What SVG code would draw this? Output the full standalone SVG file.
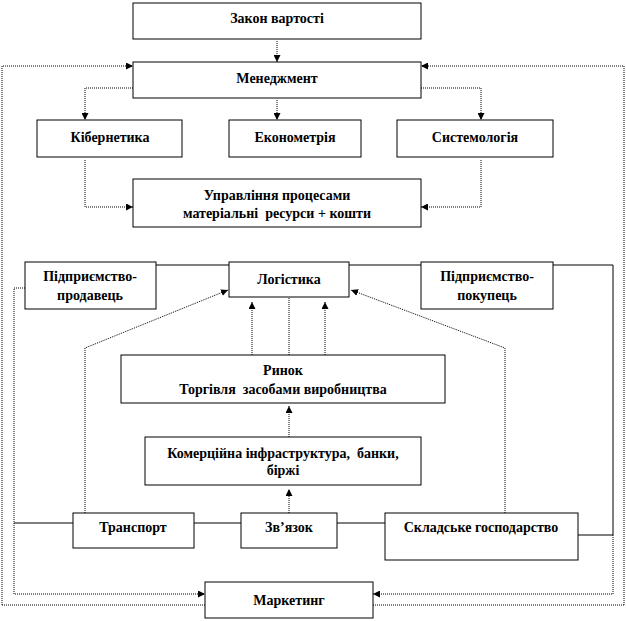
<svg xmlns="http://www.w3.org/2000/svg" width="626" height="621" viewBox="0 0 626 621">
<style>
.box{fill:#fff;stroke:#000;stroke-width:1}
.t{font-family:"Liberation Serif","Times New Roman",serif;font-weight:bold;font-size:14px;text-anchor:middle;fill:#000;white-space:pre}
.dot{fill:none;stroke:#000;stroke-width:1;stroke-dasharray:1 1}
.sol{fill:none;stroke:#000;stroke-width:1}
</style>
<defs>
<marker id="ah" viewBox="0 0 10 10" refX="10" refY="5" markerWidth="7" markerHeight="7" orient="auto" markerUnits="userSpaceOnUse">
<path d="M0,0 L10,5 L0,10 z" fill="#000"/>
</marker>
</defs>
<rect width="626" height="621" fill="#fff"/>
<g id="connectors">
<path class="dot" d="M277,41 V62" marker-end="url(#ah)"/>
<path class="dot" d="M2,605 V66 H133" marker-end="url(#ah)"/>
<path class="dot" d="M624,605 V66 H421" marker-end="url(#ah)"/>
<path class="dot" d="M2,605 H205"/>
<path class="dot" d="M373,605 H624"/>
<path class="dot" d="M133,88 H85 V120" marker-end="url(#ah)"/>
<path class="dot" d="M277,100 V120" marker-end="url(#ah)"/>
<path class="dot" d="M421,88 H481 V120" marker-end="url(#ah)"/>
<path class="dot" d="M85,160 V207 H133" marker-end="url(#ah)"/>
<path class="dot" d="M481,160 V207 H421" marker-end="url(#ah)"/>
<path class="sol" d="M156,265 H229"/>
<path class="sol" d="M349,265 H421"/>
<path class="sol" d="M553,265 H613 V535 H578"/>
<path class="dot" d="M25,288 H14 V594 H205" marker-end="url(#ah)"/>
<path class="dot" d="M613,535 V594 H373" marker-end="url(#ah)"/>
<path class="dot" d="M85,513 V348 L228,290" marker-end="url(#ah)"/>
<path class="dot" d="M505,513 V348 L351,290" marker-end="url(#ah)"/>
<path class="dot" d="M252,357 V302" marker-end="url(#ah)"/>
<path class="dot" d="M289,357 V290" marker-end="url(#ah)"/>
<path class="dot" d="M325,357 V302" marker-end="url(#ah)"/>
<path class="dot" d="M289,437 V406" marker-end="url(#ah)"/>
<path class="dot" d="M289,513 V489" marker-end="url(#ah)"/>
<path class="sol" d="M14,523 H73"/>
<path class="sol" d="M194,523 H241"/>
<path class="sol" d="M337,523 H385"/>
</g>
<g id="zakon"><rect class="box" x="133" y="3" width="288" height="36"/><text class="t" x="277" y="23">Закон вартості</text></g>
<g id="menedzhment"><rect class="box" x="133" y="62" width="288" height="36"/><text class="t" x="277" y="83">Менеджмент</text></g>
<g id="kibernetyka"><rect class="box" x="37" y="120" width="145" height="37"/><text class="t" x="110" y="142">Кібернетика</text></g>
<g id="ekonometriia"><rect class="box" x="229" y="120" width="132" height="37"/><text class="t" x="295" y="142">Економетрія</text></g>
<g id="systemolohiia"><rect class="box" x="397" y="120" width="156" height="37"/><text class="t" x="475" y="142">Системологія</text></g>
<g id="upravlinnia"><rect class="box" x="133" y="179" width="288" height="48"/><text class="t" x="277" y="200">Управління процесами</text><text class="t" x="277" y="218" xml:space="preserve">матеріальні  ресурси + кошти</text></g>
<g id="prodavets"><rect class="box" x="25" y="262" width="131" height="47"/><text class="t" x="90" y="281">Підприємство-</text><text class="t" x="90" y="300">продавець</text></g>
<g id="lohistyka"><rect class="box" x="229" y="262" width="120" height="35"/><text class="t" x="289" y="284">Логістика</text></g>
<g id="pokupets"><rect class="box" x="421" y="262" width="132" height="47"/><text class="t" x="487" y="281">Підприємство-</text><text class="t" x="487" y="300">покупець</text></g>
<g id="rynok"><rect class="box" x="121" y="355" width="324" height="48"/><text class="t" x="283" y="375">Ринок</text><text class="t" x="283" y="394" xml:space="preserve">Торгівля  засобами виробництва</text></g>
<g id="komertsiina"><rect class="box" x="145" y="437" width="276" height="48"/><text class="t" x="283" y="458" xml:space="preserve">Комерційна інфраструктура,  банки,</text><text class="t" x="283" y="475">біржі</text></g>
<g id="transport"><rect class="box" x="73" y="513" width="121" height="35"/><text class="t" x="133" y="532">Транспорт</text></g>
<g id="zviazok"><rect class="box" x="241" y="513" width="96" height="35"/><text class="t" x="289" y="532">Зв’язок</text></g>
<g id="skladske"><rect class="box" x="385" y="513" width="193" height="47"/><text class="t" x="481" y="532">Складське господарство</text></g>
<g id="marketynh"><rect class="box" x="205" y="582" width="168" height="36"/><text class="t" x="289" y="605">Маркетинг</text></g>
</svg>
